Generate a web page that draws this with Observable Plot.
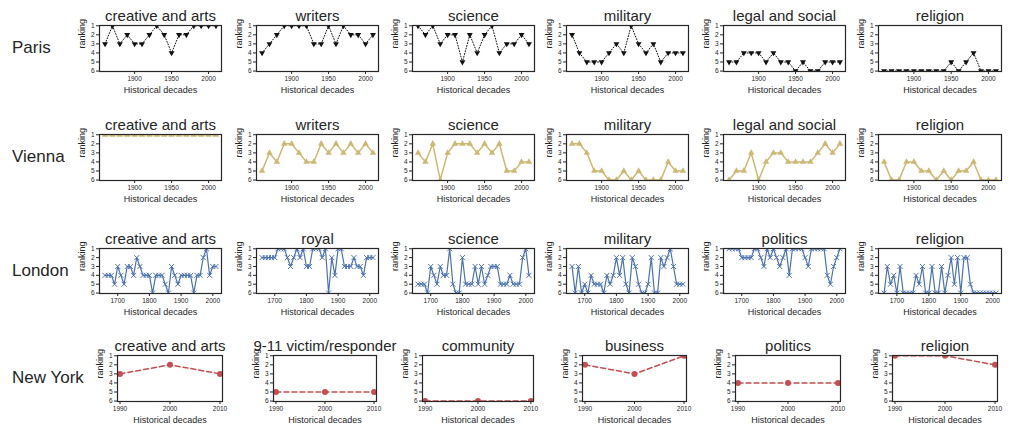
<!DOCTYPE html>
<html><head><meta charset="utf-8">
<script src="https://cdn.jsdelivr.net/npm/d3@7"></script>
<script src="https://cdn.jsdelivr.net/npm/@observablehq/plot@0.6"></script>
<style>
body{margin:0;background:#fff;font-family:Arial,"Liberation Sans",sans-serif;}
#root{position:relative;width:1011px;height:431px;overflow:hidden;background:#fff;}
.panel{position:absolute;}
.city{position:absolute;left:12px;font-size:17px;color:#262626;transform:translateY(-50%);white-space:nowrap;}
</style></head><body><div id="root"></div>
<script>
// ---------- data ----------
const parisDecades = [1860,1870,1880,1890,1900,1910,1920,1930,1940,1950,1960,1970,1980,1990,2000,2010];
const viennaDecades = [1860,1870,1880,1890,1900,1910,1920,1930,1940,1950,1960,1970,1980,1990,2000,2010];
const londonDecades = [1660,1670,1680,1690,1700,1710,1720,1730,1740,1750,1760,1770,1780,1790,1800,1810,1820,1830,1840,1850,1860,1870,1880,1890,1900,1910,1920,1930,1940,1950,1960,1970,1980,1990,2000,2010];
const nyDecades = [1990,2000,2010];

const cityNames = ["Paris","Vienna","London","New York"];
const parisTitles = ["creative and arts","writers","science","military","legal and social","religion"];
const viennaTitles = ["creative and arts","writers","science","military","legal and social","religion"];
const londonTitles = ["creative and arts","royal","science","military","politics","religion"];
const nyTitles = ["creative and arts","9-11 victim/responder","community","business","politics","religion"];
const rankTicks = [1,2,3,4,5,6];
const decadeTicks19 = [1900,1950,2000];
const decadeTicksLondon = [1700,1800,1900,2000];
const decadeTicksNY = [1990,2000,2010];

const parisCreative = [3,1,3,2,3,3,2,1,2,4,2,2,1,1,1,1];
const parisWriters  = [4,3,2,1,1,1,1,3,3,1,3,1,2,2,3,2];
const parisScience  = [1,2,1,3,2,2,5,2,4,2,1,4,3,3,2,3];
const parisMilitary = [2,4,5,5,5,4,3,4,1,3,4,3,5,4,4,4];
const parisLegal    = [5,5,4,4,4,5,4,5,5,6,5,6,6,5,5,5];
const parisReligion = [6,6,6,6,6,6,6,6,6,5,6,5,4,6,6,6];

const viennaCreative = [1,1,1,1,1,1,1,1,1,1,1,1,1,1,1,1];
const viennaWriters  = [5,3,4,2,2,3,4,4,2,3,2,3,2,3,2,3];
const viennaScience  = [3,4,2,6,3,2,2,2,3,2,3,2,5,5,4,4];
const viennaMilitary = [2,2,3,5,5,6,6,5,6,5,6,6,6,4,5,5];
const viennaLegal    = [6,5,5,3,6,4,3,3,4,4,4,4,3,2,3,2];
const viennaReligion = [4,6,6,4,4,5,5,6,5,6,5,5,4,6,6,6];

const londonCreative = [4,4,4,5,3,4,5,3,3,4,2,3,4,4,4,6,4,4,4,5,6,3,4,5,4,4,4,4,6,4,4,2,1,4,3,3];
const londonRoyal    = [2,2,2,2,2,1,1,1,2,3,2,1,2,1,3,3,1,1,1,2,1,6,2,4,1,1,3,3,3,2,3,3,4,2,2,2];
const londonScience  = [5,5,5,6,3,4,5,3,4,4,1,5,6,6,2,5,5,5,3,5,3,5,4,3,3,3,5,5,5,4,5,5,5,2,1,4];
const londonMilitary = [3,6,3,6,5,6,4,5,5,5,6,4,5,4,2,4,2,5,6,2,3,5,6,6,5,2,6,6,2,3,2,1,3,5,5,5];
const londonPolitics = [1,1,1,1,2,2,2,2,1,1,2,3,1,2,1,2,3,2,1,4,1,1,1,1,2,3,1,1,1,1,1,4,5,3,2,1];
const londonReligion = [6,3,5,4,6,3,6,6,6,6,4,5,3,6,6,3,6,6,3,6,4,2,5,2,6,2,2,5,6,6,6,6,6,6,6,6];

const nyCreative = [3,2,3];
const nyVictim   = [5,5,5];
const nyCommunity= [6,6,6];
const nyBusiness = [2,3,1];
const nyPolitics = [4,4,4];
const nyReligion = [1,1,2];

// ---------- layout / style ----------
const triangleDown = {
  draw(ctx, size) {
    const R = Math.sqrt(size / (3 * Math.sqrt(3) / 4));
    ctx.moveTo(0, R);
    ctx.lineTo(R * 0.866, -R / 2);
    ctx.lineTo(-R * 0.866, -R / 2);
    ctx.closePath();
  }
};

const rows = [
  {city: cityNames[0], top: 25, h: 46, decades: parisDecades, domain: [1852.5, 2017.5], ticks: decadeTicks19,
   lefts: [99,256,412,566,723,878], widths: [122,122,122,122,122,123],
   titles: parisTitles, series: [parisCreative, parisWriters, parisScience, parisMilitary, parisLegal, parisReligion],
   color: "#111", lw: 1, dash: "1,1.8", symbol: triangleDown, r: 2.2, filled: true},
  {city: cityNames[1], top: 134, h: 46, decades: viennaDecades, domain: [1852.5, 2017.5], ticks: decadeTicks19,
   lefts: [99,256,412,566,723,878], widths: [122,122,122,122,122,123],
   titles: viennaTitles, series: [viennaCreative, viennaWriters, viennaScience, viennaMilitary, viennaLegal, viennaReligion],
   color: "#CCB974", lw: 1.5, dash: null, symbol: "triangle", r: 2.4, filled: true},
  {city: cityNames[2], top: 248, h: 45, decades: londonDecades, domain: [1642.5, 2027.5], ticks: decadeTicksLondon,
   lefts: [99,256,412,566,723,878], widths: [122,122,122,122,122,123],
   titles: londonTitles, series: [londonCreative, londonRoyal, londonScience, londonMilitary, londonPolitics, londonReligion],
   color: "#4C72B0", lw: 1.2, dash: null, symbol: "times", r: 2.4, filled: false},
  {city: cityNames[3], top: 355, h: 46, decades: nyDecades, domain: [1989.5, 2010.5], ticks: decadeTicksNY,
   lefts: [117,273,422,582,735,892], widths: [105,103,111,104,105,105],
   titles: nyTitles, series: [nyCreative, nyVictim, nyCommunity, nyBusiness, nyPolitics, nyReligion],
   color: "#C44E52", lw: 1.5, dash: "5,3", symbol: "circle", r: 3, filled: true}
];

const root = document.getElementById("root");
const ml = 30, mr = 10, mt = 24, mb = 30;
const ink = "#262626";

rows.forEach(row => {
  const lab = document.createElement("div");
  lab.className = "city";
  lab.textContent = row.city;
  lab.style.top = (row.top + row.h / 2) + "px";
  root.appendChild(lab);

  row.titles.forEach((title, i) => {
    const data = row.decades.map((d, k) => ({decade: d, rank: row.series[i][k]}));
    const w = row.widths[i];
    const dotOpts = {x: "decade", y: "rank", symbol: row.symbol, r: row.r, clip: true};
    if (row.filled) dotOpts.fill = row.color; else { dotOpts.stroke = row.color; dotOpts.strokeWidth = 1; }
    const lineOpts = {x: "decade", y: "rank", stroke: row.color, strokeWidth: row.lw, clip: true};
    if (row.dash) lineOpts.strokeDasharray = row.dash;
    const plot = Plot.plot({
      width: w + ml + mr, height: row.h + mt + mb,
      marginLeft: ml, marginRight: mr, marginTop: mt, marginBottom: mb,
      style: {background: "transparent", overflow: "visible", color: ink, fontFamily: "Arial, 'Liberation Sans', sans-serif"},
      x: {domain: row.domain},
      y: {domain: [6.05, 0.97]},
      marks: [
        Plot.line(data, lineOpts),
        Plot.dot(data, dotOpts),
        Plot.frame({stroke: ink, strokeWidth: 1.2}),
        Plot.axisX({ticks: row.ticks, tickFormat: "d", tickSize: 3, tickPadding: 2, fontSize: 6.5, label: null}),
        Plot.axisY({ticks: rankTicks, tickFormat: "d", tickSize: 3, tickPadding: 2, fontSize: 6.5, label: null}),
        Plot.text(["Historical decades"], {text: d => d, frameAnchor: "bottom", dy: 21, fontSize: 9, fill: ink}),
        Plot.text(["ranking"], {text: d => d, frameAnchor: "left", dx: -17, rotate: -90, fontSize: 9, fill: ink}),
        Plot.text([title], {text: d => d, frameAnchor: "top", lineAnchor: "bottom", dy: -4.5, fontSize: 15, fill: ink})
      ]
    });
    plot.classList.add("panel");
    plot.style.left = (row.lefts[i] - ml) + "px";
    plot.style.top = (row.top - mt) + "px";
    root.appendChild(plot);
  });
});
</script>
</body></html>
